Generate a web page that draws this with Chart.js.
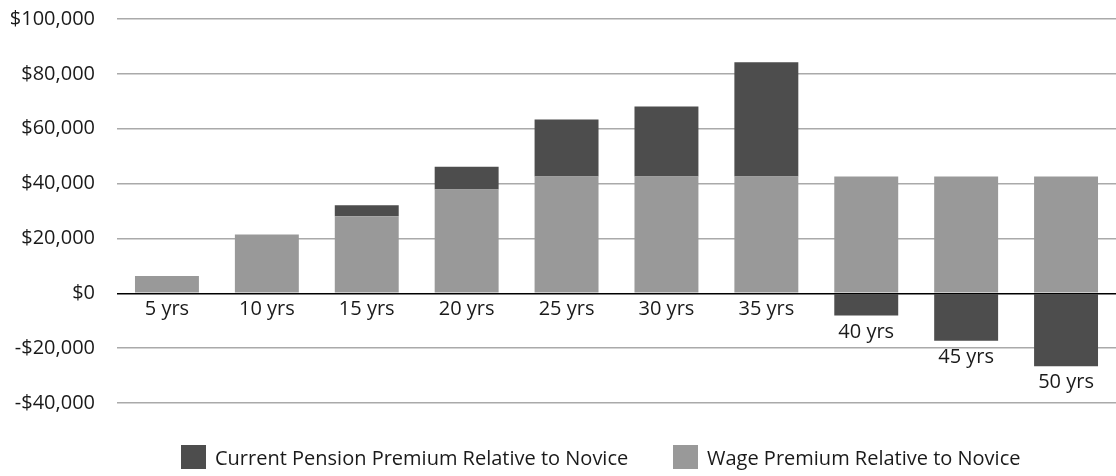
<!DOCTYPE html>
<html>
<head>
<meta charset="utf-8">
<script src="https://cdn.jsdelivr.net/npm/chart.js@4.4.1/dist/chart.umd.min.js"></script>
<style>
  body { margin: 0; background: #fff; font-family: "Open Sans", sans-serif; }
  #wrap { position: relative; width: 1116px; height: 476px; }
  #legend { position: absolute; left: 0; top: 445px; width: 1116px; height: 24px; font-size: 20px; color: #1a1a1a; }
  .item { position: absolute; top: 0; display: flex; align-items: center; height: 24px; }
  .box { width: 25px; height: 24px; margin-right: 9px; }
</style>
</head>
<body>
<div id="wrap">
  <canvas id="grafik" width="1116" height="476"></canvas>
  <div id="legend">
    <div class="item" style="left:181px"><span class="box" style="background:#4d4d4d"></span>Current Pension Premium Relative to Novice</div>
    <div class="item" style="left:673px"><span class="box" style="background:#999999"></span>Wage Premium Relative to Novice</div>
  </div>
</div>
<script>
const kategori = ["5 yrs", "10 yrs", "15 yrs", "20 yrs", "25 yrs", "30 yrs", "35 yrs", "40 yrs", "45 yrs", "50 yrs"];
const upah = [6300, 21400, 28100, 37800, 42600, 42600, 42600, 42600, 42600, 42600];
const pensiun = [0, 0, 4000, 8300, 20800, 25500, 41600, -8100, -17300, -26600];

// label kategori ditulis di bawah nol atau di bawah batang negatif
const labelKategori = {
  id: "labelKategori",
  afterDatasetsDraw(chart) {
    const { ctx, scales: { x, y } } = chart;
    ctx.save();
    ctx.font = '20px "Open Sans"';
    ctx.fillStyle = "#1a1a1a";
    ctx.textAlign = "center";
    ctx.textBaseline = "alphabetic";
    kategori.forEach((k, i) => {
      const bawah = y.getPixelForValue(Math.min(0, pensiun[i]));
      ctx.fillText(k, x.getPixelForValue(i), bawah + 22);
    });
    ctx.restore();
  }
};

new Chart(document.getElementById("grafik"), {
  type: "bar",
  data: {
    labels: kategori,
    datasets: [
      { label: "Wage Premium Relative to Novice", data: upah, backgroundColor: "#999999", borderWidth: 0 },
      { label: "Current Pension Premium Relative to Novice", data: pensiun, backgroundColor: "#4d4d4d", borderWidth: 0 }
    ]
  },
  options: {
    responsive: false,
    animation: false,
    layout: { padding: { left: 8, top: 19, bottom: 73, right: 0 } },
    datasets: { bar: { barPercentage: 0.64, categoryPercentage: 1 } },
    plugins: { legend: { display: false }, tooltip: { enabled: false } },
    scales: {
      x: { stacked: true, display: false },
      y: {
        stacked: true,
        min: -40000,
        max: 100000,
        afterFit(scale) {
          scale.width = 109;
          scale.paddingTop = 0;
          scale.paddingBottom = 0;
        },
        border: { display: false },
        grid: {
          drawTicks: false,
          lineWidth: 1.4,
          color: ctx => ctx.tick && ctx.tick.value === 0 ? "#000000" : "#aaaaaa"
        },
        ticks: {
          stepSize: 20000,
          padding: 22,
          color: "#1a1a1a",
          font: { family: "Open Sans", size: 20 },
          callback: v => (v < 0 ? "-$" : "$") + Math.abs(v).toLocaleString("en-US")
        }
      }
    }
  },
  plugins: [labelKategori]
});
</script>
</body>
</html>
